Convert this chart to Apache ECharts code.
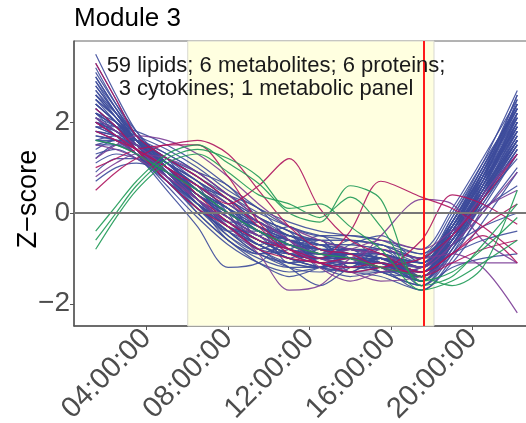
<!DOCTYPE html>
<html>
<head>
<meta charset="utf-8">
<script src="https://cdn.jsdelivr.net/npm/echarts@6/dist/echarts.min.js"></script>
<style>html,body{margin:0;padding:0;background:#fff;}#chart{width:526px;height:423px;}</style>
</head>
<body>
<div id="chart"></div>
<script>
// sample times (hours of day)
const hours = [1.5, 2.5, 3.5, 5, 6.5, 8, 9.5, 11, 12.5, 14, 15.5, 17.5, 19, 20.5, 22.2];

// lipids (blue)
const lipids = [
  [3.5, 2.6, 1.8, 1.0, 0.5, 0.1, -0.3, -0.6, -0.8, -0.9, -1.0, -1.3, -0.5, 0.7, 2.5],
  [3.2, 2.4, 1.7, 1.1, 0.6, 0.1, -0.4, -0.7, -0.9, -0.8, -0.9, -1.2, -0.4, 0.8, 2.6],
  [2.9, 2.2, 1.6, 1.0, 0.4, -0.1, -0.5, -0.8, -0.9, -1.0, -1.1, -1.4, -0.6, 0.5, 2.2],
  [2.6, 2.1, 1.6, 0.9, 0.3, -0.2, -0.6, -0.9, -1.0, -0.9, -1.0, -1.3, -0.5, 0.6, 2.1],
  [2.4, 2.0, 1.5, 0.9, 0.4, 0.0, -0.3, -0.6, -0.8, -0.8, -0.9, -1.1, -0.3, 0.8, 2.0],
  [2.3, 1.9, 1.5, 0.8, 0.2, -0.3, -0.5, -1.0, -0.7, -1.2, -1.0, -1.5, -0.7, 0.4, 1.8],
  [2.2, 1.9, 1.4, 0.7, 0.1, -0.4, -0.8, -0.9, -1.0, -1.1, -1.2, -1.4, -0.6, 0.4, 1.7],
  [2.1, 1.8, 1.4, 0.8, 0.3, -0.1, -0.5, -0.8, -0.9, -0.9, -1.0, -1.2, -0.2, 0.9, 2.2],
  [2.0, 1.8, 1.5, 1.0, 0.5, 0.0, -0.4, -0.6, -0.7, -0.7, -0.8, -1.0, -0.1, 1.0, 2.3],
  [1.9, 1.7, 1.4, 0.9, 0.4, -0.1, -0.5, -0.8, -1.0, -1.1, -1.1, -1.3, -0.4, 0.7, 1.9],
  [1.8, 1.7, 1.4, 0.8, 0.2, -0.3, -0.6, -0.9, -1.0, -0.9, -1.0, -1.2, -0.5, 0.5, 1.6],
  [1.7, 1.6, 1.3, 0.7, 0.1, -0.4, -0.9, -1.1, -1.2, -1.1, -1.2, -1.5, -0.8, 0.3, 1.5],
  [1.6, 1.5, 1.3, 0.9, 0.5, 0.1, -0.2, -0.5, -0.7, -0.8, -0.9, -1.1, -0.3, 0.7, 1.8],
  [1.5, 1.5, 1.3, 0.8, 0.2, -0.2, -0.6, -0.9, -1.0, -1.0, -1.1, -1.4, -0.7, 0.3, 1.4],
  [1.3, 1.4, 1.2, 0.7, 0.2, -0.3, -0.7, -1.0, -1.1, -1.2, -1.2, -1.3, -0.6, 0.4, 1.6],
  [1.1, 1.3, 1.2, 0.9, 0.4, -0.1, -0.5, -0.8, -0.9, -0.9, -1.0, -1.3, -0.4, 0.6, 2.0],
  [0.9, 1.2, 1.2, 0.8, 0.3, -0.2, -0.6, -0.8, -1.0, -1.0, -1.1, -1.2, -0.5, 0.5, 1.7],
  [0.7, 1.0, 1.1, 0.9, 0.5, 0.0, -0.4, -0.7, -0.8, -0.8, -0.9, -1.1, -0.5, 0.3, 1.2],
  [3.0, 2.3, 1.7, 1.2, 0.7, 0.3, -0.1, -0.4, -0.6, -0.6, -0.7, -1.0, -0.2, 0.9, 2.4],
  [2.5, 2.0, 1.5, 1.1, 0.7, 0.2, -0.2, -0.5, -0.7, -0.8, -0.9, -1.1, -0.3, 0.9, 2.1],
  [2.2, 1.8, 1.6, 1.3, 0.9, 0.4, 0.0, -0.3, -0.5, -0.6, -0.7, -0.9, 0.0, 1.1, 2.3],
  [2.0, 1.9, 1.7, 1.4, 1.0, 0.5, 0.1, -0.2, -0.4, -0.5, -0.6, -0.8, 0.1, 1.2, 2.5],
  [1.9, 1.9, 1.8, 1.5, 1.1, 0.6, 0.1, -0.3, -0.5, -0.5, -0.6, -0.9, -0.4, 0.1, 0.6],
  [1.4, 1.6, 1.6, 1.3, 0.9, 0.4, -0.1, -0.5, -0.7, -0.7, -0.8, -1.0, -0.7, -0.3, 0.0],
  [2.4, 2.0, 1.6, 1.0, 0.3, -0.3, -0.8, -1.1, -1.2, -1.1, -1.1, -1.3, -0.9, -0.6, -0.4],
  [2.7, 2.1, 1.5, 0.8, 0.1, -0.5, -0.9, -1.2, -1.3, -1.2, -1.3, -1.6, -1.2, -1.0, -0.9],
  [2.3, 1.9, 1.5, 0.9, 0.3, -0.3, -0.7, -1.0, -1.2, -1.3, -1.4, -1.7, -1.0, 0.1, 1.3],
  [2.1, 1.7, 1.3, 0.7, 0.0, -0.6, -1.0, -1.2, -1.2, -1.1, -1.3, -1.6, -0.9, 0.3, 1.6],
  [1.8, 1.6, 1.3, 0.6, -0.1, -0.7, -1.1, -1.3, -1.2, -1.0, -1.0, -1.4, -0.8, 0.2, 1.4],
  [2.6, 2.2, 1.7, 1.1, 0.5, -0.1, -0.6, -0.7, -0.8, -1.0, -1.1, -1.5, -0.6, 0.6, 2.2],
  [3.3, 2.5, 1.7, 0.9, 0.3, -0.2, -0.6, -0.9, -1.0, -1.0, -1.2, -1.5, -0.5, 0.7, 2.4],
  [2.8, 2.2, 1.6, 0.9, 0.4, 0.0, -0.4, -0.7, -0.9, -0.9, -0.9, -1.2, -0.3, 0.8, 2.3],
  [2.0, 1.8, 1.5, 1.0, 0.6, 0.2, -0.3, -0.7, -1.0, -1.2, -1.2, -1.3, -0.5, 0.6, 2.0],
  [1.6, 1.7, 1.6, 1.1, 0.6, 0.1, -0.4, -0.8, -1.1, -1.3, -1.3, -1.2, -0.4, 0.5, 1.6],
  [1.2, 1.5, 1.5, 1.2, 0.8, 0.3, -0.2, -0.6, -0.9, -1.0, -1.0, -1.1, -0.2, 0.8, 1.9],
  [2.2, 2.0, 1.6, 0.8, 0.0, -0.6, -1.1, -1.4, -1.2, -0.9, -0.9, -1.2, -0.6, 0.4, 1.6],
  [2.5, 2.1, 1.6, 0.9, 0.2, -0.4, -0.9, -1.1, -1.0, -0.8, -0.8, -1.1, -0.5, 0.6, 1.9],
  [2.0, 1.8, 1.4, 0.7, 0.1, -0.4, -0.7, -1.0, -1.2, -1.3, -1.2, -1.0, -0.3, 0.7, 2.0],
  [2.4, 2.0, 1.5, 0.9, 0.4, 0.0, -0.3, -0.5, -0.6, -0.8, -1.0, -1.4, -0.7, 0.2, 1.3],
  [1.7, 1.6, 1.5, 1.1, 0.7, 0.3, -0.1, -0.4, -0.7, -0.9, -1.1, -1.5, -0.9, 0.0, 1.0],
  [2.9, 2.3, 1.7, 1.0, 0.3, -0.3, -0.7, -0.9, -0.9, -0.8, -0.9, -1.1, -0.1, 1.1, 2.7],
  [3.1, 2.4, 1.8, 1.1, 0.5, 0.0, -0.4, -0.7, -0.8, -0.9, -1.0, -1.3, -0.3, 0.9, 2.6],
  [2.3, 1.9, 1.4, 0.8, 0.2, -0.2, -0.6, -0.9, -1.1, -1.1, -1.0, -1.2, -0.4, 0.6, 1.8],
  [1.9, 1.7, 1.4, 0.9, 0.3, -0.2, -0.7, -1.0, -1.2, -1.4, -1.3, -1.3, -0.6, 0.3, 1.4],
  [2.1, 1.9, 1.5, 1.0, 0.5, 0.1, -0.3, -0.6, -0.8, -1.0, -1.1, -1.4, -0.4, 0.8, 2.1],
  [1.5, 1.6, 1.5, 1.0, 0.5, 0.0, -0.4, -0.6, -0.8, -0.9, -1.0, -1.3, -0.6, 0.4, 1.5],
  [2.7, 2.2, 1.7, 1.2, 0.8, 0.3, -0.2, -0.5, -0.6, -0.6, -0.7, -1.0, -0.2, 1.0, 2.4],
  [2.0, 1.7, 1.4, 0.9, 0.4, -0.1, -0.4, -0.7, -0.9, -1.0, -1.1, -1.3, -0.5, 0.5, 1.7],
  [2.0, 1.7, 1.3, 0.5, -0.3, -1.2, -1.1, -0.6, -0.8, -1.0, -1.1, -1.3, -0.6, 0.4, 1.5],
  [2.2, 1.9, 1.5, 0.9, 0.3, -0.3, -0.8, -1.2, -1.6, -1.2, -1.0, -1.4, -0.7, 0.3, 1.5],
  [2.6, 2.1, 1.6, 1.1, 0.6, 0.3, -0.5, -0.3, -0.9, -0.6, -1.1, -1.3, -0.4, 0.8, 2.2],
  [1.9, 1.8, 1.5, 1.0, 0.6, -0.2, -0.2, -0.9, -0.6, -1.2, -0.8, -1.4, -0.6, 0.5, 1.8],
  [2.4, 2.0, 1.6, 1.2, 0.4, 0.1, -0.7, -0.5, -1.2, -0.9, -1.3, -1.2, -0.3, 0.9, 2.3],
  [2.8, 2.2, 1.6, 1.0, 0.3, -0.4, -0.4, -1.1, -0.8, -1.0, -0.7, -1.5, -0.7, 0.5, 2.0],
  [1.6, 1.6, 1.4, 1.1, 0.7, 0.0, -0.8, -0.6, -0.6, -1.3, -1.0, -1.2, -0.2, 1.0, 2.4],
  [2.2, 1.9, 1.6, 1.2, 0.8, 0.4, 0.1, -0.6, -1.0, -0.7, -0.5, -1.1, -0.3, 0.7, 2.1],
  [3.0, 2.3, 1.6, 0.9, 0.2, -0.5, -0.9, -0.7, -1.1, -1.3, -0.9, -1.6, -0.8, 0.4, 1.9],
  [1.8, 1.7, 1.5, 1.2, 0.9, 0.6, -0.1, -0.4, -1.0, -0.8, -1.3, -1.4, -0.5, 0.6, 1.9],
  [2.5, 2.1, 1.5, 0.8, 0.2, -0.6, -0.9, -0.8, -0.5, -1.0, -1.2, -1.7, -1.1, -0.2, 0.9]
];

// proteins (purple)
const proteins = [
  [1.2, 1.5, 1.7, 1.6, 1.3, 0.8, 0.2, -0.3, -0.6, -0.8, -0.9, -1.2, -0.7, 0.0, 0.9],
  [2.0, 1.7, 1.4, 0.9, 0.3, -0.3, -0.9, -1.7, -1.6, -1.0, -0.8, -1.0, -0.9, -1.2, -2.2],
  [1.5, 1.4, 1.2, 0.8, 0.3, -0.2, -0.5, -0.8, -1.0, -1.1, -0.5, 0.3, 0.2, -0.6, -1.1],
  [1.8, 1.6, 1.3, 0.8, 0.3, -0.1, -0.5, -0.8, -1.1, -1.3, -1.5, -1.4, -1.1, -1.1, -1.1],
  [2.1, 1.8, 1.5, 1.0, 0.6, 0.2, -0.2, -0.6, -1.2, -1.5, -1.3, -1.2, -0.5, 0.4, 1.3],
  [0.8, 1.1, 1.3, 1.2, 0.9, 0.4, -0.1, -0.6, -0.9, -0.8, -0.6, -0.8, -0.4, 0.1, 0.5]
];

// metabolites (magenta)
const metabolites = [
  [3.3, 2.5, 1.7, 1.2, 0.8, 0.3, -0.3, -0.9, -1.1, -1.0, -1.2, -0.6, 0.4, 0.2, -0.25],
  [0.5, 0.9, 1.2, 1.5, 1.5, 0.8, -0.2, -0.8, -1.1, -1.2, -1.1, -1.4, -1.1, -0.8, -0.6],
  [1.0, 1.2, 1.4, 1.5, 1.6, 1.3, 0.5, -0.3, -0.8, -0.9, -1.2, -1.3, -0.9, -0.5, -1.1],
  [2.0, 1.7, 1.4, 1.0, 0.6, 0.2, 0.6, 1.2, 0.1, -0.6, -0.9, -1.3, -0.9, -0.3, 0.2],
  [1.8, 1.6, 1.4, 1.0, 0.4, -0.2, -0.6, -0.8, -1.0, -0.4, 0.7, 0.35, 0.1, -0.3, -0.9],
  [2.3, 1.9, 1.4, 0.7, 0.1, -0.3, -0.8, -1.0, -1.1, -1.3, -1.2, -1.0, -0.5, 0.3, 1.3]
];

// cytokines + metabolic panel (green)
const cytokines = [
  [-0.4, 0.15, 0.7, 1.3, 1.5, 1.1, 0.65, 0.0, -0.2, 0.6, 0.3, -1.6, -1.4, -0.7, 0.2],
  [-0.6, 0.0, 0.6, 1.2, 1.4, 1.2, 0.8, 0.1, 0.2, -0.3, -0.8, -1.7, -1.5, -1.1, -0.6],
  [-0.8, -0.1, 0.5, 1.1, 1.3, 0.9, 0.4, 0.2, -0.1, 0.35, -0.3, -1.5, -1.3, -0.8, -0.1],
  [1.6, 1.5, 1.3, 0.9, 0.5, 0.0, -0.4, -0.7, -0.9, -1.0, -1.2, -1.4, -1.6, -1.2, 0.5]
];

const xTickHours = [4, 8, 12, 16, 20];
const xTickLabels = ['04:00:00', '08:00:00', '12:00:00', '16:00:00', '20:00:00'];
const yTicks = [-2, 0, 2];
const yTickLabels = ['\u22122', '0', '2'];
const shadeStart = 6.02, shadeEnd = 18.11;
const markerHour = 17.62;
const titleText = 'Module 3';
const noteLine1 = '59 lipids; 6 metabolites; 6 proteins;';
const noteLine2 = '3 cytokines; 1 metabolic panel';
const yName = 'Z\u2212score';

const colors = { lipids: '#3D4B9B', proteins: '#7B3C96', metabolites: '#AE155F', cytokines: '#1F9A56' };

function mk(arr, color) {
  return arr.map(vals => ({
    type: 'line', data: vals.map((v, i) => [hours[i], v]),
    showSymbol: false, symbol: 'none', smooth: 0.3, silent: true, z: 3,
    lineStyle: { color: color, width: 1.2, opacity: 0.9 }
  }));
}

const series = [
  { type: 'line', data: [], z: 1, silent: true,
    markArea: { silent: true, itemStyle: { color: '#FFFFE0', borderColor: '#D8D8D0', borderWidth: 1 },
      data: [[{ xAxis: shadeStart }, { xAxis: shadeEnd }]] } }
].concat(mk(lipids, colors.lipids), mk(proteins, colors.proteins), mk(metabolites, colors.metabolites), mk(cytokines, colors.cytokines));

series.push({ type: 'line', data: [], z: 10, silent: true,
  markLine: { silent: true, symbol: 'none', label: { show: false },
    data: [
      { yAxis: 0, lineStyle: { color: '#777777', width: 2, type: 'solid' } },
      { xAxis: markerHour, lineStyle: { color: '#FF1A1A', width: 2, type: 'solid' } }
    ] } });

const chart = echarts.init(document.getElementById('chart'), null, { renderer: 'canvas' });
chart.setOption({
  animation: false,
  backgroundColor: '#ffffff',
  title: { text: titleText, left: 74, top: 6, padding: 0,
    textStyle: { fontFamily: 'Liberation Sans', fontSize: 26, fontWeight: 'normal', color: '#000' } },
  grid: { left: 74, top: 41, right: -8, bottom: 97, outerBoundsMode: 'none', containLabel: false,
    show: true, borderColor: '#666', borderWidth: 1, backgroundColor: 'transparent' },
  xAxis: {
    type: 'value', min: 0.436, max: 23.02,
    splitLine: { show: false },
    axisLine: { show: true, onZero: false, lineStyle: { color: '#555', width: 1.5 } },
    axisTick: { show: true, length: 4, lineStyle: { color: '#555' }, customValues: xTickHours },
    axisLabel: { customValues: xTickHours, rotate: 45, margin: 8, color: '#4D4D4D',
      fontFamily: 'Liberation Sans', fontSize: 29,
      formatter: v => { const i = xTickHours.indexOf(Math.round(v)); return i >= 0 ? xTickLabels[i] : ''; } }
  },
  yAxis: {
    type: 'value', min: -2.49, max: 3.79,
    splitLine: { show: false },
    axisLine: { show: true, onZero: false, lineStyle: { color: '#555', width: 1.5 } },
    axisTick: { show: true, length: 4, lineStyle: { color: '#555' }, customValues: yTicks },
    axisLabel: { customValues: yTicks, margin: 4, color: '#4D4D4D',
      fontFamily: 'Liberation Sans', fontSize: 28,
      formatter: v => { const i = yTicks.indexOf(Math.round(v)); return i >= 0 ? yTickLabels[i] : ''; } }
  },
  graphic: [
    { type: 'text', x: 29, y: 199, rotation: Math.PI / 2, z: 100,
      style: { text: yName, fontFamily: 'Liberation Sans', fontSize: 27, fill: '#000', textAlign: 'center', textVerticalAlign: 'middle' } },
    { type: 'text', x: 276, y: 66, z: 100,
      style: { text: noteLine1, fontFamily: 'Liberation Sans', fontSize: 22, fill: '#1a1a1a', textAlign: 'center', textVerticalAlign: 'middle' } },
    { type: 'text', x: 266, y: 89, z: 100,
      style: { text: noteLine2, fontFamily: 'Liberation Sans', fontSize: 22, fill: '#1a1a1a', textAlign: 'center', textVerticalAlign: 'middle' } }
  ],
  series: series
});
</script>
</body>
</html>
